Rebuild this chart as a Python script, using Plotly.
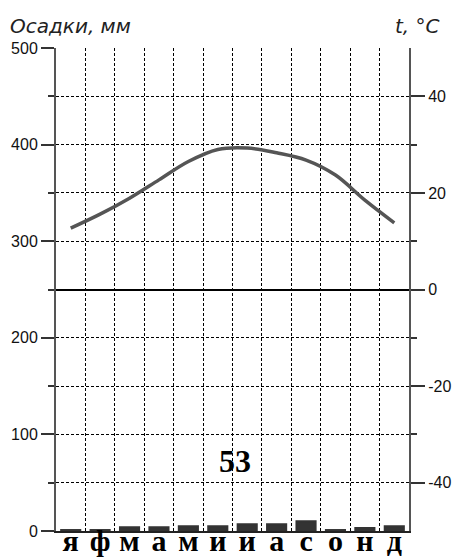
import plotly.graph_objects as go

months = ["я", "ф", "м", "а", "м", "и", "и", "а", "с", "о", "н", "д"]
precip = [1, 1, 4, 4, 5, 5, 7, 7, 10, 1, 3, 5]
temp = [12.7, 15.6, 18.9, 22.7, 26.5, 29.0, 29.3, 28.3, 26.8, 23.7, 18.5, 13.8]
annual_total = "53"
precip_ticks = [0, 100, 200, 300, 400, 500]
temp_ticks = [-40, -20, 0, 20, 40]
temp_tick_text = ["-40", "-20", "0", "20", "40"]
temp_minor = [-30, -10, 10, 30]

xc = [i + 0.5 for i in range(len(months))]
bounds = list(range(1, len(months)))

GRID = "3px,2px"

fig = go.Figure()
fig.add_bar(x=xc, y=precip, width=0.65,
            marker=dict(color="#333333", line=dict(color="#333333", width=2)),
            yaxis="y", showlegend=False)
fig.add_scatter(x=xc, y=temp, mode="lines",
                line=dict(color="#555555", width=3.5, shape="spline"),
                yaxis="y2", showlegend=False)

tickfont = dict(family="Liberation Sans", size=16, color="#111111")

fig.update_layout(
    width=452, height=558,
    margin=dict(l=56, r=43, t=48, b=27),
    plot_bgcolor="white", paper_bgcolor="white",
    xaxis=dict(range=[0, 12], tickmode="array", tickvals=xc, ticktext=months,
               tickfont=dict(family="Liberation Serif", size=30, color="black", weight="bold"),
               ticklabelstandoff=-18,
               showgrid=False, ticks="", showline=True, linecolor="#222222", linewidth=2,
               zeroline=False, automargin=False,
               minor=dict(tickmode="array", tickvals=bounds, showgrid=True,
                          gridcolor="black", griddash=GRID, gridwidth=1, ticks="")),
    yaxis=dict(range=[0, 500], tickmode="array", tickvals=precip_ticks,
               ticks="outside", ticklen=13, tickwidth=2, tickcolor="#333333",
               showline=True, linecolor="#555555", linewidth=2,
               showgrid=True, gridcolor="black", griddash=GRID, gridwidth=1,
               zeroline=False, tickfont=tickfont, automargin=False,
               minor=dict(dtick=50, ticks="outside", ticklen=6, tickwidth=2,
                          tickcolor="#333333", showgrid=True, gridcolor="black",
                          griddash=GRID, gridwidth=1)),
    yaxis2=dict(range=[-50, 50], overlaying="y", side="right", tickmode="array",
                tickvals=temp_ticks, ticktext=temp_tick_text,
                ticks="outside", ticklen=14, tickwidth=2,
                tickcolor="#333333", showline=True, linecolor="#555555", linewidth=2,
                showgrid=False, zeroline=True, zerolinecolor="black", zerolinewidth=1.5,
                tickfont=tickfont, automargin=False,
                minor=dict(tickmode="array", tickvals=temp_minor, ticks="outside",
                           ticklen=6, tickwidth=2, tickcolor="#333333", showgrid=False)),
    annotations=[
        dict(text=annual_total, x=6.07, y=72, xref="x", yref="y", showarrow=False,
             font=dict(family="Liberation Serif", size=32, color="black", weight="bold")),
        dict(text="Осадки, мм", x=-0.136, y=1.045, xref="paper", yref="paper",
             xanchor="left", yanchor="middle", showarrow=False,
             font=dict(family="DejaVu Sans", size=20, color="#222222", style="italic")),
        dict(text="t, °C", x=1.0935, y=1.045, xref="paper", yref="paper",
             xanchor="right", yanchor="middle", showarrow=False,
             font=dict(family="DejaVu Sans", size=20, color="#222222", style="italic")),
    ],
)

fig.write_html("out.html",
               config={"displayModeBar": False},
               post_script="document.body.style.margin='0';document.body.style.overflow='hidden';")
